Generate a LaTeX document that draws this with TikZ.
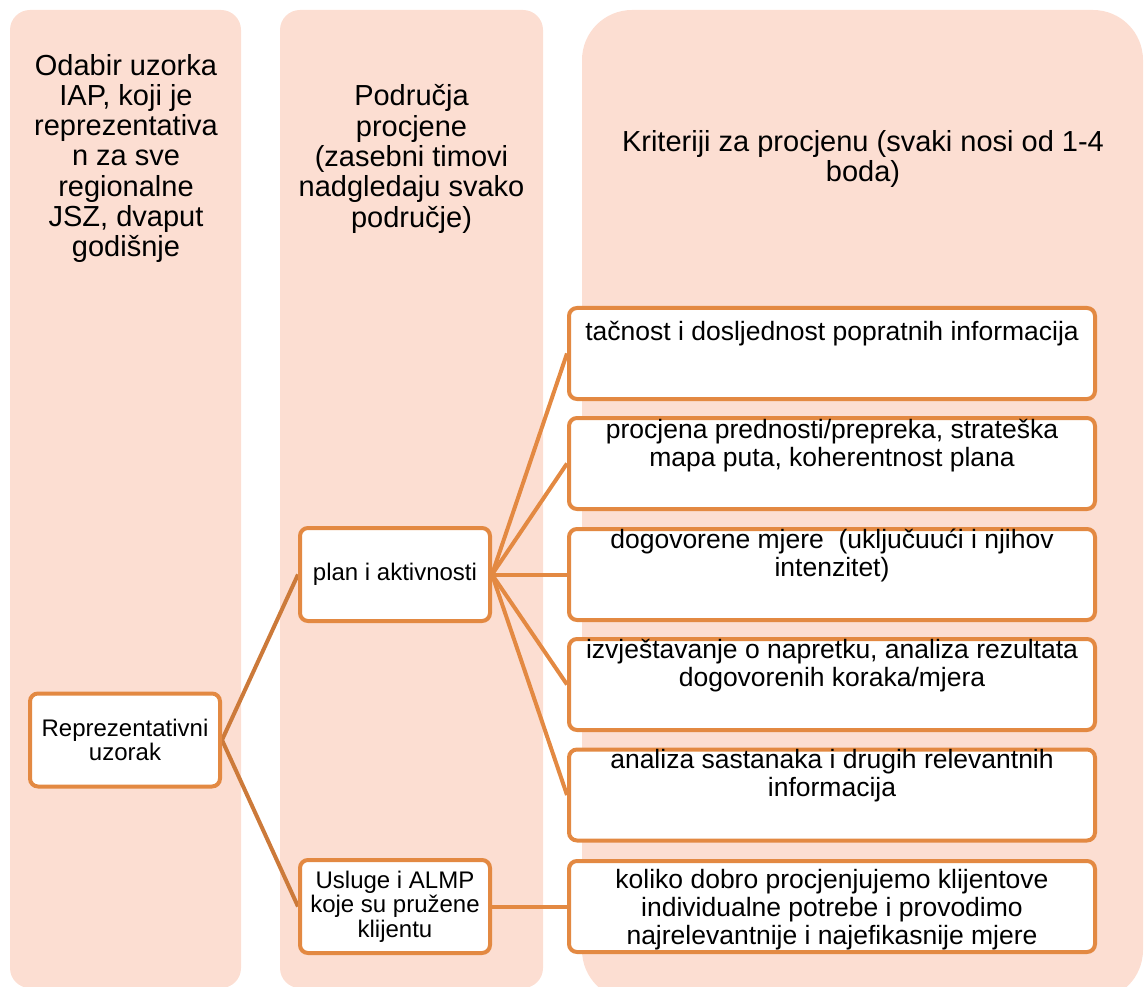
\documentclass[tikz,border=0pt]{standalone}
\usepackage{fontspec}
\setmainfont{Liberation Sans}

\definecolor{colbg}{RGB}{252,222,210}
\definecolor{boxline}{RGB}{227,137,66}
\definecolor{linkdark}{RGB}{204,122,58}

\pgfdeclarelayer{bg}
\pgfsetlayers{bg,main}

\tikzset{
	box/.style={draw=boxline, line width=4pt, fill=white, rounded corners=8pt, align=center, inner sep=2pt},
	smallbox/.style={box, minimum width=190pt, minimum height=93pt, font=\fontsize{24}{24.5}\selectfont},
	critbox/.style={box, minimum width=526pt, minimum height=91pt},
	crittext/.style={align=center, inner sep=0pt, font=\fontsize{26.5}{28}\selectfont},
	heading/.style={align=center, inner sep=0pt, font=\fontsize{29}{30.3}\selectfont},
	link/.style={line width=4pt, draw=boxline},
	linkback/.style={line width=4pt, draw=linkdark},
}

\begin{document}
\begin{tikzpicture}[x=1pt,y=-1pt]
		\useasboundingbox (0,0) rectangle (1144,987);
		\clip (0,0) rectangle (1144,987);
		
		% the three columns
		\begin{pgfonlayer}{bg}
		\fill[colbg, rounded corners=20pt] (10,10) rectangle (241,988);
		\fill[colbg, rounded corners=20pt] (280,10) rectangle (543,988);
		\fill[colbg, rounded corners=50pt] (582,10) rectangle (1143,1000);
		\end{pgfonlayer}
		
		\node[heading] (head1) at (126,158.5) {Odabir uzorka\\IAP, koji je\\reprezentativa\\n za sve\\regionalne\\JSZ, dvaput\\godišnje};
		\node[heading] (head2) at (411.5,159) {Područja\\procjene\\(zasebni timovi\\nadgledaju svako\\područje)};
		\node[heading] (head3) at (863,159) {Kriteriji za procjenu (svaki nosi od 1-4\\boda)};
		
		\node[smallbox] (rep) at (125,740) {Reprezentativni\\uzorak};
		\node[smallbox] (plan) at (395,574.5) {plan i aktivnosti};
		\node[smallbox] (usl) at (395,906.5) {Usluge i ALMP\\koje su pružene\\klijentu};
		
		\node[critbox] (k1) at (832,353.5) {};
		\node[critbox] (k2) at (832,463.5) {};
		\node[critbox] (k3) at (832,574.5) {};
		\node[critbox] (k4) at (832,684.5) {};
		\node[critbox] (k5) at (832,795) {};
		\node[critbox] (k6) at (832,906.5) {};
		
		\node[crittext] (t1) at ([yshift=20pt]k1.center) {tačnost i dosljednost popratnih informacija};
		\node[crittext] (t2) at ([yshift=18pt]k2.center) {procjena prednosti/prepreka, strateška\\mapa puta, koherentnost plana};
		\node[crittext] (t3) at ([yshift=19pt]k3.center) {dogovorene mjere~ (uključuući i njihov\\intenzitet)};
		\node[crittext] (t4) at ([yshift=19pt]k4.center) {izvještavanje o napretku, analiza rezultata\\dogovorenih koraka/mjera};
		\node[crittext] (t5) at ([yshift=19pt]k5.center) {analiza sastanaka i drugih relevantnih\\informacija};
		\node[crittext] (t6) at ([yshift=-3pt]k6.center) {koliko dobro procjenjujemo klijentove\\individualne potrebe i provodimo\\najrelevantnije i najefikasnije mjere};
		
		\begin{pgfonlayer}{bg}
		\draw[linkback] (rep.east) -- (plan.west);
		\draw[linkback] (rep.east) -- (usl.west);
		\foreach \k in {k1,k2,k3,k4,k5}
			\draw[link] (plan.east) -- (\k.west);
		\draw[link] (usl.east) -- (k6.west);
		\end{pgfonlayer}
	\end{tikzpicture}
\end{document}
